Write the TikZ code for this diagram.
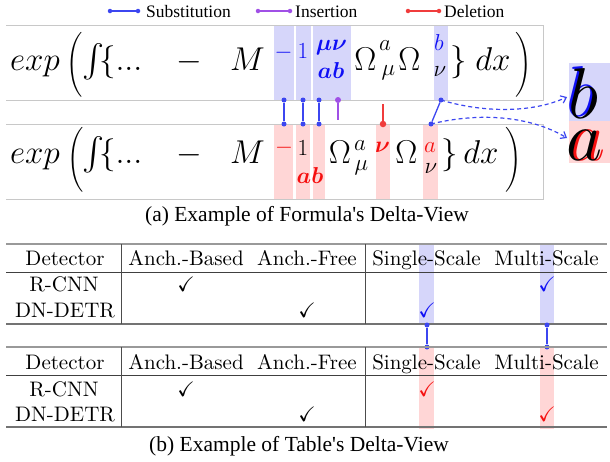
\RequirePackage{fix-cm}
\documentclass[tikz,border=0pt]{standalone}
\usepackage{amsmath,amssymb}
\usepackage{fontspec}
\setmainfont{lmroman10-regular.otf}[BoldFont=lmroman10-bold.otf, ItalicFont=lmroman10-italic.otf, BoldItalicFont=lmroman10-bolditalic.otf]
\newfontfamily\capfont{Liberation Serif}
\usetikzlibrary{arrows.meta}
\definecolor{hlB}{RGB}{214,214,250}
\definecolor{hlR}{RGB}{255,214,214}
\definecolor{txB}{RGB}{15,15,245}
\definecolor{txR}{RGB}{245,15,15}
\definecolor{lnB}{RGB}{60,70,240}
\definecolor{lnP}{RGB}{160,80,230}
\definecolor{lnR}{RGB}{240,60,60}
\definecolor{boxG}{RGB}{200,200,200}
\tikzset{
  fm/.style={inner sep=0pt, outer sep=0pt, anchor=base, font=\fontsize{33}{40}\selectfont},
  fsup/.style={inner sep=0pt, outer sep=0pt, anchor=base, font=\fontsize{23}{28}\selectfont},
  paren/.style={inner sep=0pt, outer sep=0pt, xscale=0.82, transform shape, font=\fontsize{27}{32}\selectfont},
  boxline/.style={draw=boxG, line width=0.8pt},
  dotB/.style={circle, fill=lnB, inner sep=0pt, minimum size=5pt},
  dotP/.style={circle, fill=lnP, inner sep=0pt, minimum size=6pt},
  dotR/.style={circle, fill=lnR, inner sep=0pt, minimum size=6.5pt},
  conB/.style={draw=lnB, line width=1.3pt},
  conP/.style={draw=lnP, line width=1.3pt},
  conR/.style={draw=lnR, line width=1.3pt},
  dashB/.style={draw=lnB, line width=1.2pt, dash pattern=on 4pt off 3pt, -{Straight Barb[length=5pt,width=8pt]}},
  tbl/.style={inner sep=0pt, anchor=base, font=\fontsize{21}{25}\selectfont},
  captxt/.style={inner sep=0pt, anchor=base, font=\capfont\fontsize{21.5}{26}\selectfont},
  legtxt/.style={inner sep=0pt, anchor=base west, font=\capfont\fontsize{17.5}{21}\selectfont},
  ruleThick/.style={draw=black!55, line width=1.6pt},
  ruleTop/.style={draw=black!40, line width=1.8pt},
  ruleMid/.style={draw=black!75, line width=1pt},
  vline/.style={draw=black!70, line width=0.9pt},
  bigltr/.style={inner sep=0pt, outer sep=0pt, anchor=base west, font=\fontsize{72}{80}\selectfont},
  bigltra/.style={inner sep=0pt, outer sep=0pt, anchor=base west, font=\fontsize{70}{80}\selectfont}
}
\begin{document}
\begin{tikzpicture}[x=1pt,y=-1pt]
\useasboundingbox (0,0) rectangle (610,461);
\fill[white] (0,0) rectangle (610,461);
% legend
\node[dotB, minimum size=4.5pt] (l1a) at (110,11) {};
\node[dotB, minimum size=4.5pt] (l1b) at (138,11) {};
\draw[conB, line width=1.1pt] (l1a) -- (l1b);
\node[legtxt] (l1t) at (146,17) {Substitution};
\node[dotP, minimum size=4.5pt] (l2a) at (258,11) {};
\node[dotP, minimum size=4.5pt] (l2b) at (290,11) {};
\draw[conP, line width=1.1pt] (l2a) -- (l2b);
\node[legtxt] (l2t) at (295,17) {Insertion};
\node[dotR, minimum size=4.5pt] (l3a) at (408,11) {};
\node[dotR, minimum size=4.5pt] (l3b) at (439,11) {};
\draw[conR, line width=1.1pt] (l3a) -- (l3b);
\node[legtxt] (l3t) at (444,17) {Deletion};
% highlights formula
\fill[hlB] (274,25) rectangle (294,100);
\fill[hlB] (296,25) rectangle (311,100);
\fill[hlB] (313,25) rectangle (351,100);
\fill[hlB] (434,25) rectangle (448,100);
\fill[hlR] (274,124) rectangle (293,199);
\fill[hlR] (296,124) rectangle (310,199);
\fill[hlR] (313,124) rectangle (325,199);
\fill[hlR] (376,124) rectangle (390,199);
\fill[hlR] (423,124) rectangle (438,199);
% boxes
\draw[boxline] (6,25) -- (543,25) -- (543,100) -- (6,100);
\draw[boxline] (6,124) -- (543,124) -- (543,199) -- (6,199);
% top formula
\node[fm] (t1) at (35,70) {$exp$};
\node[paren] (t2) at (75,64.5) {$\bigg($};
\node[fm] (t3) at (93,70) {$\int$};
\node[fm] (t4) at (108,70) {$\{$};
\node[fm] (t5) at (129,70) {$...$};
\node[fm] (t6) at (189,70) {$-$};
\node[fm] (t7) at (247.5,70) {$M$};
\node[fsup, text=txB] (t8) at (283.5,58.5) {$-$};
\node[fsup, text=txB] (t9) at (303,58) {$1$};
\node[fsup, text=txB] (t10) at (331.5,50) {$\boldsymbol{\mu\nu}$};
\node[fsup, text=txB] (t11) at (331,78) {$\boldsymbol{ab}$};
\node[fm] (t12) at (365.5,70) {$\Omega$};
\node[fsup] (t13) at (385,50) {$a$};
\node[fsup] (t14) at (388.5,75) {$\mu$};
\node[fm] (t15) at (409.5,70) {$\Omega$};
\node[fsup, text=txB] (t16) at (439,50) {$b$};
\node[fsup] (t17) at (440,76) {$\nu$};
\node[fm] (t18) at (459,70) {$\}$};
\node[fm] (t19) at (493,70) {$dx$};
\node[paren] (t20) at (524,64.5) {$\bigg)$};
% bottom formula
\node[fm] (b1) at (35,163) {$exp$};
\node[paren] (b2) at (75.5,159.5) {$\bigg($};
\node[fm] (b3) at (93,163) {$\int$};
\node[fm] (b4) at (108,163) {$\{$};
\node[fm] (b5) at (129,163) {$...$};
\node[fm] (b6) at (189,163) {$-$};
\node[fm] (b7) at (247.5,163) {$M$};
\node[fsup, text=txR] (b8) at (284,153) {$-$};
\node[fsup] (b9) at (303,155) {$1$};
\node[fsup, text=txR] (b10) at (310,183) {$\boldsymbol{ab}$};
\node[fm] (b11) at (340,163) {$\Omega$};
\node[fsup] (b12) at (360,150) {$a$};
\node[fsup] (b13) at (361.5,170) {$\mu$};
\node[fsup, text=txR] (b14) at (382.5,152) {$\boldsymbol{\nu}$};
\node[fm] (b15) at (406.5,163) {$\Omega$};
\node[fsup, text=txR] (b16) at (430,152) {$a$};
\node[fsup] (b17) at (431,173) {$\nu$};
\node[fm] (b18) at (450,163) {$\}$};
\node[fm] (b19) at (481,163) {$dx$};
\node[paren] (b20) at (513.5,159.5) {$\bigg)$};
% connectors formula
\node[dotB] (d1t) at (284,100) {};
\node[dotB] (d1b) at (284,124) {};
\draw[conB] (d1t) -- (d1b);
\node[dotB] (d2t) at (303,100) {};
\node[dotB] (d2b) at (303,124) {};
\draw[conB] (d2t) -- (d2b);
\node[dotB] (d3t) at (319,100) {};
\node[dotB] (d3b) at (319,124) {};
\draw[conB] (d3t) -- (d3b);
\node[dotP] (d4t) at (338,100) {};
\coordinate (d4e) at (338,120);
\draw[conP] (d4t) -- (d4e);
\node[dotR] (d5b) at (383,124) {};
\coordinate (d5e) at (383,104);
\draw[conR] (d5b) -- (d5e);
\node[dotB] (d6t) at (441,100) {};
\node[dotB] (d6b) at (431,124) {};
\draw[conB] (d6t) -- (d6b);
% inset b / a
\fill[hlB] (569,63) rectangle (612,121);
\fill[hlR] (569,121) rectangle (612,163);
\node[bigltr, text=txB] (ib2) at (566.5,116.5) {$b$};
\node[bigltr] (ib) at (568,118) {$b$};
\node[bigltra, text=txR] (ia2) at (569.5,160) {$a$};
\node[bigltra] (ia) at (566.5,160) {$a$};
\coordinate (bt) at (567,97);
\coordinate (at) at (567,138);
\draw[dashB] (d6t.center) .. controls (480,112) and (530,114) .. (bt);
\draw[dashB] (d6b.center) .. controls (480,112) and (530,116) .. (at);
% caption a
\node[captxt] (capa) at (307,221) {(a) Example of Formula's Delta-View};
% table highlights
\fill[hlB] (419,243) rectangle (434,325);
\fill[hlB] (540,243) rectangle (554,325);
\fill[hlR] (419,347) rectangle (434,429);
\fill[hlR] (540,347) rectangle (554,429);
% table 1
\draw[ruleTop] (6,244) -- (607,244);
\draw[ruleMid] (6,272) -- (607,272);
\draw[ruleThick] (6,324) -- (607,324);
\draw[vline] (121,244) -- (121,324);
\draw[vline] (365,244) -- (365,324);
\node[tbl] (h1a) at (65,265) {Detector};
\node[tbl] (h1b) at (186,265) {Anch.-Based};
\node[tbl] (h1c) at (307,265) {Anch.-Free};
\node[tbl] (h1d) at (426.5,265) {Single-Scale};
\node[tbl] (h1e) at (546.5,265) {Multi-Scale};
\node[tbl] (r1a) at (64,291) {R-CNN};
\node[tbl] (r1b) at (186,291) {$\checkmark$};
\node[tbl, text=txB] (r1e) at (547,291) {$\checkmark$};
\node[tbl] (s1a) at (65,317) {DN-DETR};
\node[tbl] (s1c) at (307,317) {$\checkmark$};
\node[tbl, text=txB] (s1d) at (427,317) {$\checkmark$};
% table connectors
\node[dotB] (e1t) at (427,325) {};
\node[dotB] (e1b) at (427,347) {};
\draw[conB] (e1t) -- (e1b);
\node[dotB] (e2t) at (547,325) {};
\node[dotB] (e2b) at (547,347) {};
\draw[conB] (e2t) -- (e2b);
% table 2
\draw[ruleTop] (6,347) -- (607,347);
\draw[ruleMid] (6,375) -- (607,375);
\draw[ruleThick] (6,427) -- (607,427);
\draw[vline] (121,347) -- (121,427);
\draw[vline] (365,347) -- (365,427);
\node[tbl] (h2a) at (65,369) {Detector};
\node[tbl] (h2b) at (186,369) {Anch.-Based};
\node[tbl] (h2c) at (307,369) {Anch.-Free};
\node[tbl] (h2d) at (426.5,369) {Single-Scale};
\node[tbl] (h2e) at (546.5,369) {Multi-Scale};
\node[tbl] (r2a) at (64,396) {R-CNN};
\node[tbl] (r2b) at (186,396) {$\checkmark$};
\node[tbl, text=txR] (r2d) at (427,396) {$\checkmark$};
\node[tbl] (s2a) at (65,421) {DN-DETR};
\node[tbl] (s2c) at (307,421) {$\checkmark$};
\node[tbl, text=txR] (s2e) at (547,421) {$\checkmark$};
% caption b
\node[captxt] (capb) at (299,451) {(b) Example of Table's Delta-View};
\end{tikzpicture}
\end{document}
